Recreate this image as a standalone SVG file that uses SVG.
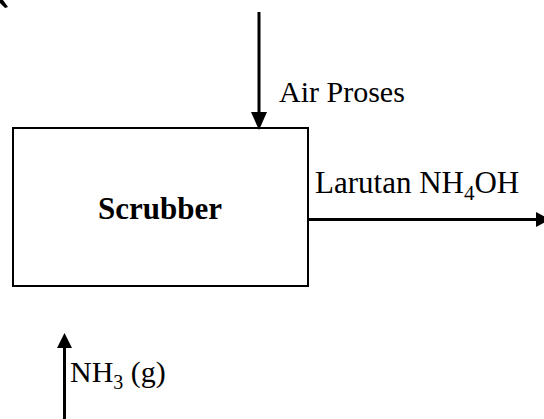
<svg xmlns="http://www.w3.org/2000/svg" width="544" height="419" viewBox="0 0 544 419">
<style>
.t{font-family:"Liberation Serif","Times New Roman",serif;font-size:30px;fill:#000}
.b{font-weight:bold;font-size:31px}
.ln{stroke:#000;stroke-width:3;fill:none}
.hd{fill:#000}
</style>
<rect width="544" height="419" fill="#fff"/>
<polygon class="hd" points="0,0 3,0 8,7 5,8 0,3"/>
<g id="scrubber">
<rect x="13" y="128" width="295" height="158" fill="#fff" stroke="#000" stroke-width="2"/>
<text class="t b" x="160" y="219" text-anchor="middle">Scrubber</text>
</g>
<g id="connectors">
<g id="air-proses">
<line class="ln" x1="259" y1="12" x2="259" y2="114"/>
<polygon class="hd" points="251,112 267,112 259,130"/>
<text class="t" x="279" y="102">Air Proses</text>
</g>
<g id="larutan">
<line class="ln" x1="308" y1="219.5" x2="540" y2="219.5"/>
<polygon class="hd" points="536,212 536,227 550,219.5"/>
<text class="t" x="315" y="193" style="font-size:31px">Larutan NH<tspan style="font-size:21px" dy="7">4</tspan><tspan dy="-7">OH</tspan></text>
</g>
<g id="nh3">
<line class="ln" x1="64.5" y1="346" x2="64.5" y2="419"/>
<polygon class="hd" points="57,348 72,348 64.5,333"/>
<text class="t" x="70" y="382">NH<tspan style="font-size:20px" dy="7">3</tspan><tspan dy="-7"> (g)</tspan></text>
</g>
</g>
</svg>
